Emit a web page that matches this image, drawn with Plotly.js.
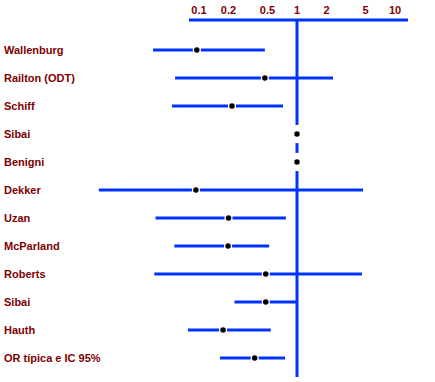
<!DOCTYPE html>
<html>
<head>
<meta charset="utf-8">
<script src="https://cdn.plot.ly/plotly-3.0.1.min.js"></script>
<style>
  html, body { margin: 0; padding: 0; background: #fff; }
  #chart { width: 435px; height: 382px; }
</style>
</head>
<body>
<div id="chart"></div>
<script>
// ---- data (odds ratios) ----
const studies = ["Wallenburg", "Railton (ODT)", "Schiff", "Sibai", "Benigni", "Dekker",
                 "Uzan", "McParland", "Roberts", "Sibai", "Hauth", "OR típica e IC 95%"];
const oddsRatio = [0.095, 0.47, 0.217, 1, 1, 0.093, 0.20, 0.198, 0.48, 0.48, 0.176, 0.37];
const ciLow     = [0.034, 0.057, 0.053, null, null, 0.0095, 0.036, 0.056, 0.035, 0.23, 0.077, 0.164];
const ciHigh    = [0.47, 2.33, 0.72, null, null, 4.72, 0.77, 0.52, 4.6, 1.0, 0.54, 0.755];
const tickValues = [0.1, 0.2, 0.5, 1, 2, 5, 10];
const tickLabels = ["0.1", "0.2", "0.5", "1", "2", "5", "10"];

const rows = studies.map((_, i) => i);
const BLUE = "#0033ff";
const RED = "#800000";
const FONT = "Liberation Sans, Arial, sans-serif";

// CI segments (null-separated)
const segX = [], segY = [];
rows.forEach(i => {
  if (ciLow[i] !== null && ciHigh[i] !== null) {
    segX.push(ciLow[i], ciHigh[i], null);
    segY.push(i, i, null);
  }
});

const traces = [
  { type: "scatter", mode: "lines", x: segX, y: segY,
    line: { color: BLUE, width: 3 }, hoverinfo: "skip", showlegend: false },
  { type: "scatter", mode: "markers", x: oddsRatio, y: rows,
    marker: { symbol: "line-ns", size: 13, color: "#fff", line: { color: "#fff", width: 8 } },
    hoverinfo: "skip", showlegend: false },
  { type: "scatter", mode: "markers", x: oddsRatio, y: rows,
    marker: { symbol: "circle", size: 5.5, color: "#000", line: { width: 0 } },
    showlegend: false }
];

const annotations = studies.map((s, i) => ({
  xref: "paper", yref: "y", x: 2 / 435, y: i, xanchor: "left", yanchor: "middle",
  text: "<b>" + s + "</b>", showarrow: false,
  font: { family: FONT, size: 11, color: RED }
}));

const layout = {
  width: 435, height: 382,
  margin: { l: 0, r: 0, t: 20, b: 0, pad: 0 },
  paper_bgcolor: "#fff", plot_bgcolor: "#fff",
  showlegend: false,
  xaxis: {
    type: "log", side: "top",
    range: [-297 / 98, 138 / 98],
    tickvals: tickValues, ticktext: tickLabels,
    ticks: "", showgrid: false, zeroline: false, showline: false,
    ticklabelstandoff: 3,
    tickfont: { family: FONT, size: 11, color: RED, weight: "bold" },
    fixedrange: true
  },
  yaxis: {
    range: [11.857, -1.0714],
    showticklabels: false, ticks: "", showgrid: false, zeroline: false, showline: false,
    fixedrange: true
  },
  shapes: [
    { type: "line", xref: "paper", yref: "paper", x0: 189 / 435, x1: 408 / 435, y0: 1, y1: 1,
      line: { color: BLUE, width: 3 }, layer: "below" },
    { type: "line", xref: "x", yref: "paper", x0: 1, x1: 1, y0: 1, y1: 0.0138,
      line: { color: BLUE, width: 3 }, layer: "below" }
  ],
  annotations: annotations
};

Plotly.newPlot("chart", traces, layout, { displayModeBar: false, staticPlot: true });
</script>
</body>
</html>
